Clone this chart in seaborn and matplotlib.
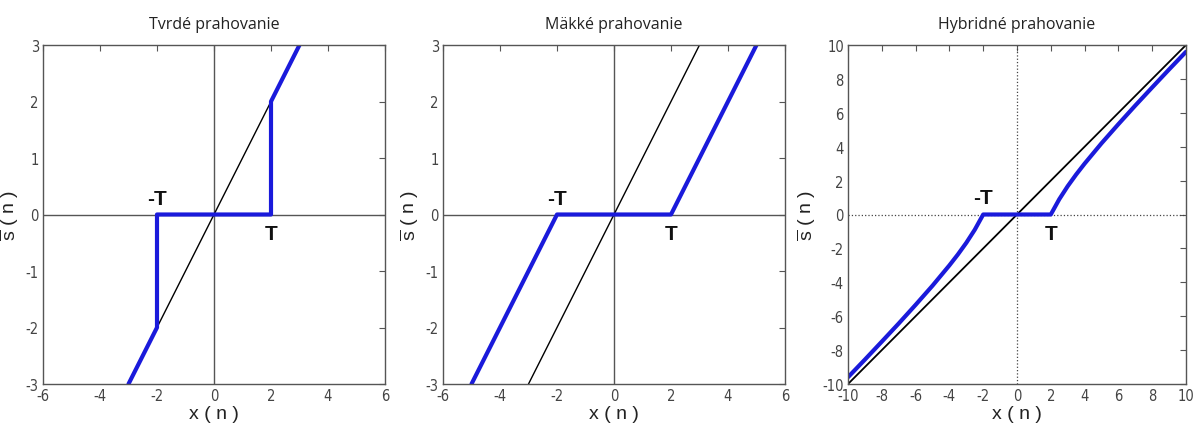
import matplotlib
matplotlib.use("Agg")
import matplotlib.pyplot as plt
import seaborn as sns
import pandas as pd

sns.set_theme(style="white")
plt.rcParams["font.family"] = ["DejaVu Sans"]
plt.rcParams["axes.unicode_minus"] = False
plt.rcParams["mathtext.fontset"] = "custom"
plt.rcParams["mathtext.rm"] = "Liberation Sans"

# Identity line y = x
ident_small_x = [-3, 3]
ident_small_y = [-3, 3]
ident_big_x = [-10, 10]
ident_big_y = [-10, 10]

# Hard thresholding (T = 2)
hard_x = [-3, -2, -2, 2, 2, 3]
hard_y = [-3, -2, 0, 0, 2, 3]

# Soft thresholding (T = 2)
soft_x = [-5, -2, 2, 5]
soft_y = [-3, 0, 0, 3]

# Hybrid thresholding (T = 2)
hyb_x = [-10, -9, -8, -7, -6, -5, -4, -3.5, -3, -2.5, -2,
         2, 2.5, 3, 3.5, 4, 5, 6, 7, 8, 9, 10]
hyb_y = [-9.6, -8.56, -7.5, -6.43, -5.33, -4.2, -3.0, -2.36, -1.67, -0.9, 0,
         0, 0.9, 1.67, 2.36, 3.0, 4.2, 5.33, 6.43, 7.5, 8.56, 9.6]

titles = ["Tvrdé prahovanie", "Mäkké prahovanie", "Hybridné prahovanie"]
x_label = "x ( n )"
y_label = r"$\overline{\mathrm{s}}$ ( n )"

fig = plt.figure(figsize=(11.97, 4.27), dpi=100)
bottom = (427 - 385) / 427
height = 339 / 427
boxes = [(43, 342), (443, 342), (848, 338)]
axes = [fig.add_axes([l / 1197, bottom, w / 1197, height]) for l, w in boxes]

frame_col = "#555555"
tick_col = "#444444"
blue = "#1a1adb"


def style(ax, xlim, ylim, xt, yt):
    ax.set_xlim(*xlim)
    ax.set_ylim(*ylim)
    ax.set_xticks(xt)
    ax.set_yticks(yt)
    ax.tick_params(direction="in", top=True, right=True, length=4, width=0.8,
                   colors=frame_col, labelcolor=tick_col, labelsize=10.5)
    ax.tick_params(axis="x", pad=3)
    ax.tick_params(axis="y", pad=3)
    for lab in ax.get_xticklabels() + ax.get_yticklabels():
        lab.set_fontstretch("condensed")
    for s in ax.spines.values():
        s.set_color(frame_col)
        s.set_linewidth(1.0)
    ax.set_xlabel(x_label, fontsize=14, color="#222222", labelpad=1,
                  family=["Liberation Sans", "DejaVu Sans"])
    ax.set_ylabel(y_label, fontsize=14, color="#222222", labelpad=3,
                  family=["Liberation Sans", "DejaVu Sans"])


def line(ax, x, y, color, lw, **kw):
    df = pd.DataFrame({"x": x, "y": y})
    sns.lineplot(data=df, x="x", y="y", sort=False, estimator=None, ax=ax,
                 color=color, linewidth=lw, **kw)


title_kw = dict(fontsize=11.5, family=["Open Sans", "DejaVu Sans"], color="#222222", pad=12)
label_kw = dict(fontsize=15, fontweight="bold", color="#111111",
                family=["Liberation Sans", "DejaVu Sans"], ha="center")

# Panel 1: hard
ax = axes[0]
ax.axhline(0, color="#555555", lw=1.0, zorder=1)
ax.axvline(0, color="#555555", lw=1.0, zorder=1)
line(ax, ident_small_x, ident_small_y, "black", 1.0)
line(ax, hard_x, hard_y, blue, 3.0)
style(ax, (-6, 6), (-3, 3), range(-6, 7, 2), range(-3, 4))
ax.set_title(titles[0], **title_kw)
ax.text(-2, 0.12, "-T", va="bottom", **label_kw)
ax.text(2, -0.17, "T", va="top", **label_kw)

# Panel 2: soft
ax = axes[1]
ax.axhline(0, color="#555555", lw=1.0, zorder=1)
ax.axvline(0, color="#555555", lw=1.0, zorder=1)
line(ax, ident_small_x, ident_small_y, "black", 1.0)
line(ax, soft_x, soft_y, blue, 3.0)
style(ax, (-6, 6), (-3, 3), range(-6, 7, 2), range(-3, 4))
ax.set_title(titles[1], **title_kw)
ax.text(-2, 0.12, "-T", va="bottom", **label_kw)
ax.text(2, -0.17, "T", va="top", **label_kw)

# Panel 3: hybrid
ax = axes[2]
ax.axhline(0, color="#444444", lw=0.9, ls=":", zorder=1)
ax.axvline(0, color="#444444", lw=0.9, ls=":", zorder=1)
line(ax, ident_big_x, ident_big_y, "black", 1.3)
line(ax, hyb_x, hyb_y, blue, 3.0)
style(ax, (-10, 10), (-10, 10), range(-10, 11, 2), range(-10, 11, 2))
ax.set_title(titles[2], **title_kw)
ax.text(-2, 0.45, "-T", va="bottom", **label_kw)
ax.text(2, -0.55, "T", va="top", **label_kw)

for ax in axes:
    if ax.get_legend():
        ax.get_legend().remove()

fig.savefig("out.png", dpi=100)
